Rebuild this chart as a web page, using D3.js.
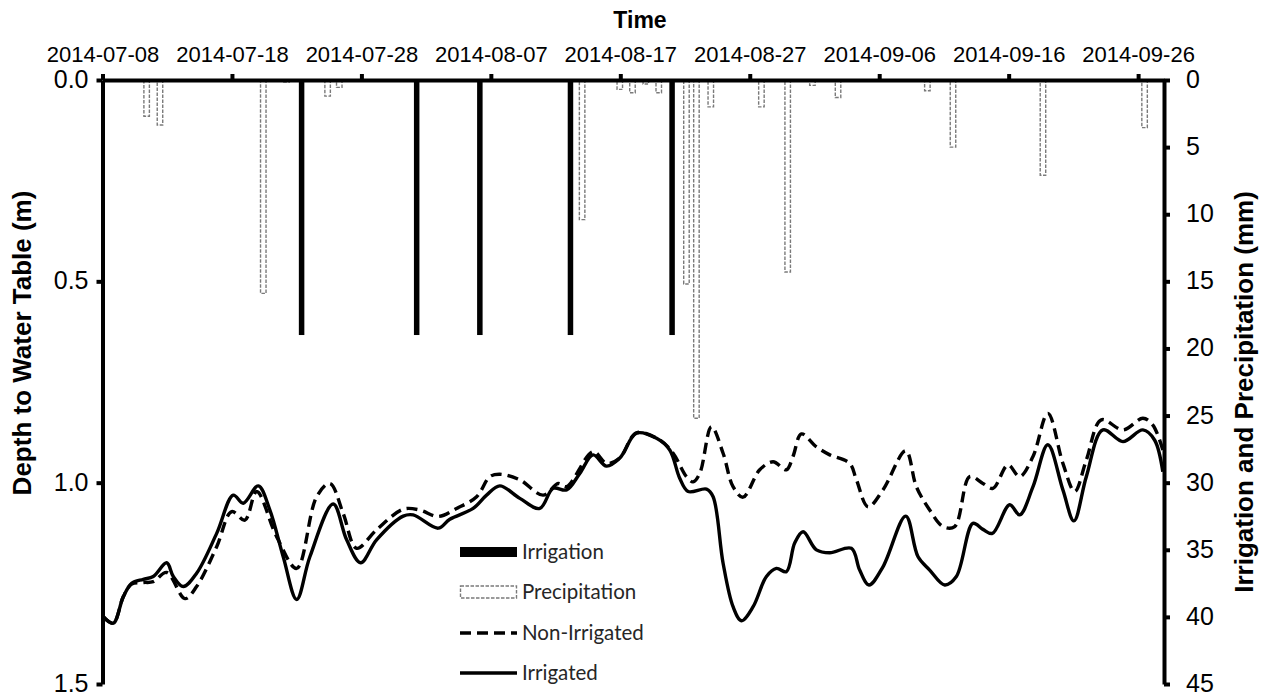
<!DOCTYPE html>
<html>
<head>
<meta charset="utf-8">
<script src="https://cdn.jsdelivr.net/npm/d3@7"></script>
<style>
  html, body { margin: 0; padding: 0; background: #fff; }
  svg { display: block; }
</style>
</head>
<body>
<svg id="chart" width="1265" height="692"></svg>
<script>
// Series start date; all time positions below are days after this date.
const startDate = "2014-07-08";
const endDate = "2014-09-28";

const tickDates = ["2014-07-08", "2014-07-18", "2014-07-28", "2014-08-07", "2014-08-17",
                   "2014-08-27", "2014-09-06", "2014-09-16", "2014-09-26"];
const depthTicks = [0, 0.5, 1.0, 1.5];
const rainTicks = [0, 5, 10, 15, 20, 25, 30, 35, 40, 45];

// Irrigation events (days after start, mm)
const irrigationDay = [15.38, 24.27, 29.15, 36.15, 44.0];
const irrigationMm  = [19, 19, 19, 19, 19];

// Precipitation events (days after start, mm)
const precipDay = [3.41, 4.44, 12.42, 14.22, 17.39, 18.29, 37.05, 39.96, 40.94, 41.97, 42.97,
                   45.11, 45.88, 46.99, 50.90, 52.93, 54.84, 56.82, 63.72, 65.70, 72.65, 80.50];
const precipMm  = [2.7, 3.35, 15.9, 0.15, 1.2, 0.55, 10.4, 0.7, 0.95, 0.3, 0.95,
                   15.2, 25.2, 2.0, 2.0, 14.3, 0.4, 1.3, 0.8, 5.0, 7.1, 3.55];

// Depth to water table, irrigated plot (days after start, m)
const irrigatedDay = [0.06, 0.83, 1.61, 2.25, 3.15, 3.92, 4.96, 5.47, 6.24, 7.27, 8.82, 10.10, 10.87,
  12.03, 12.93, 13.96, 15.00, 16.02, 17.82, 18.86, 19.94, 21.17, 23.23, 24.00, 25.93, 26.83, 28.63,
  29.67, 30.69, 32.24, 33.78, 34.81, 35.85, 36.87, 37.90, 38.93, 39.96, 41.25, 42.80, 43.82, 44.59,
  45.24, 46.66, 47.17, 47.94, 48.71, 49.36, 50.26, 51.29, 52.06, 52.83, 53.47, 54.12, 55.15, 56.18,
  57.85, 58.49, 59.21, 60.29, 62.05, 63.00, 63.90, 65.06, 65.96, 67.24, 68.01, 68.74, 70.08, 70.85,
  71.88, 73.03, 74.19, 75.04, 76.00, 77.28, 78.83, 80.37, 81.27, 81.91];
const irrigatedDepth = [1.333, 1.349, 1.283, 1.250, 1.240, 1.233, 1.199, 1.233, 1.258, 1.225, 1.126,
  1.031, 1.051, 1.008, 1.068, 1.184, 1.290, 1.184, 1.053, 1.142, 1.199, 1.142, 1.083, 1.080, 1.113,
  1.091, 1.064, 1.031, 1.008, 1.039, 1.064, 1.014, 1.018, 0.977, 0.931, 0.959, 0.939, 0.877, 0.890,
  0.919, 0.989, 1.022, 1.016, 1.035, 1.200, 1.308, 1.343, 1.308, 1.233, 1.213, 1.221, 1.150, 1.122,
  1.167, 1.174, 1.163, 1.217, 1.254, 1.209, 1.083, 1.184, 1.217, 1.254, 1.233, 1.101, 1.116, 1.126,
  1.055, 1.080, 1.010, 0.906, 1.018, 1.095, 0.985, 0.869, 0.898, 0.869, 0.894, 0.973];

// Depth to water table, non-irrigated plot (days after start, m)
const nonIrrigatedDay = [0.06, 0.83, 1.61, 2.25, 3.15, 3.92, 4.96, 6.37, 7.27, 8.82, 9.98, 11.00,
  11.91, 13.45, 15.00, 16.54, 17.57, 18.59, 19.63, 21.17, 23.23, 24.52, 25.93, 27.35, 28.90, 29.92,
  30.69, 32.24, 34.04, 35.20, 35.85, 37.90, 38.93, 39.96, 41.25, 43.05, 44.08, 45.11, 45.62, 46.14,
  47.04, 47.94, 48.71, 49.48, 50.77, 51.80, 52.83, 53.34, 53.99, 55.15, 56.18, 57.72, 58.24, 59.14,
  60.29, 62.05, 62.87, 63.90, 64.93, 65.83, 66.99, 68.01, 68.79, 69.95, 70.85, 71.88, 73.03, 74.19,
  75.10, 76.00, 77.16, 78.83, 80.37, 81.14, 81.91];
const nonIrrigatedDepth = [1.333, 1.349, 1.283, 1.252, 1.248, 1.246, 1.223, 1.288, 1.258, 1.159,
  1.072, 1.093, 1.022, 1.134, 1.213, 1.035, 1.002, 1.076, 1.163, 1.117, 1.066, 1.068, 1.084, 1.064,
  1.035, 0.985, 0.979, 0.993, 1.031, 1.002, 1.010, 0.923, 0.952, 0.939, 0.876, 0.894, 0.927, 0.985,
  0.998, 0.977, 0.861, 0.927, 1.010, 1.036, 0.968, 0.948, 0.968, 0.935, 0.879, 0.911, 0.931, 0.952,
  0.993, 1.060, 1.018, 0.921, 1.010, 1.068, 1.109, 1.109, 0.985, 1.002, 1.014, 0.956, 0.985, 0.935,
  0.828, 0.952, 1.022, 0.944, 0.844, 0.869, 0.840, 0.857, 0.919];

const legendItems = ["Irrigation", "Precipitation", "Non-Irrigated", "Irrigated"];

// ---------------------------------------------------------------------------
const SANS = "'Liberation Sans', Arial, sans-serif";
const parse = d3.timeParse("%Y-%m-%d");
const t0 = parse(startDate);
const dayToDate = d => new Date(t0.getTime() + d * 864e5);

const plot = { left: 102.5, right: 1164, top: 80, bottom: 684 };

const x = d3.scaleTime().domain([t0, parse(endDate)]).range([plot.left, plot.right]);
const yDepth = d3.scaleLinear().domain([0, 1.5]).range([plot.top, plot.bottom]);
const yRain = d3.scaleLinear().domain([0, 45]).range([plot.top, plot.bottom]);

const svg = d3.select("#chart");

// Precipitation bars (hanging from the top axis)
const barW = 5.5;
const precipStyle = sel => sel
  .attr("fill", "#fff")
  .attr("stroke", "#7a7a7a")
  .attr("stroke-width", 1.4)
  .attr("stroke-dasharray", "3.5 1.5");

svg.append("g").selectAll("rect")
  .data(precipDay.map((d, i) => ({ date: dayToDate(d), mm: precipMm[i] })))
  .join("rect")
  .attr("x", d => x(d.date) - barW / 2)
  .attr("y", yRain(0))
  .attr("width", barW)
  .attr("height", d => yRain(d.mm) - yRain(0))
  .call(precipStyle);

// Irrigation bars
svg.append("g").selectAll("rect")
  .data(irrigationDay.map((d, i) => ({ date: dayToDate(d), mm: irrigationMm[i] })))
  .join("rect")
  .attr("x", d => x(d.date) - 2.75)
  .attr("y", yRain(0))
  .attr("width", 5.5)
  .attr("height", d => yRain(d.mm) - yRain(0))
  .attr("fill", "#000");

// Water table lines
const line = d3.line()
  .x(d => x(d.date))
  .y(d => yDepth(d.v))
  .curve(d3.curveCatmullRom.alpha(0.5));

const nonIrr = nonIrrigatedDay.map((d, i) => ({ date: dayToDate(d), v: nonIrrigatedDepth[i] }));
const irr = irrigatedDay.map((d, i) => ({ date: dayToDate(d), v: irrigatedDepth[i] }));

svg.append("path").datum(nonIrr)
  .attr("d", line)
  .attr("fill", "none")
  .attr("stroke", "#000")
  .attr("stroke-width", 3.4)
  .attr("stroke-dasharray", "11 6");

svg.append("path").datum(irr)
  .attr("d", line)
  .attr("fill", "none")
  .attr("stroke", "#000")
  .attr("stroke-width", 3.4)
  .attr("stroke-linejoin", "round");

// Axes
function styleAxis(size) {
  return g => {
    g.select(".domain").attr("stroke", "#000").attr("stroke-width", 4);
    g.selectAll(".tick line").attr("stroke", "#000").attr("stroke-width", 4);
    g.selectAll(".tick text").attr("font-size", size).attr("fill", "#000")
      .attr("font-family", SANS);
  };
}

svg.append("g")
  .attr("transform", `translate(0,${plot.top})`)
  .call(d3.axisTop(x)
    .tickValues(tickDates.map(parse))
    .tickFormat(d3.timeFormat("%Y-%m-%d"))
    .tickSize(6).tickSizeOuter(0).tickPadding(12))
  .call(styleAxis(22));

svg.append("g")
  .attr("transform", `translate(${plot.left},0)`)
  .call(d3.axisLeft(yDepth)
    .tickValues(depthTicks)
    .tickFormat(d3.format(".1f"))
    .tickSize(6).tickSizeOuter(0).tickPadding(8))
  .call(styleAxis(25))
  .selectAll(".tick text").attr("dy", "0.3em");

svg.append("g")
  .attr("transform", `translate(${plot.right},0)`)
  .call(d3.axisRight(yRain)
    .tickValues(rainTicks)
    .tickFormat(d3.format("d"))
    .tickSize(6).tickSizeOuter(0).tickPadding(16))
  .call(styleAxis(25))
  .selectAll(".tick text").attr("dy", "0.3em");

// Axis titles
const title = (sel, size) => sel
  .attr("text-anchor", "middle")
  .attr("font-family", SANS)
  .attr("font-size", size).attr("font-weight", "bold")
  .attr("fill", "#000");

svg.append("text")
  .attr("x", 640).attr("y", 28)
  .call(title, 23)
  .text("Time");

svg.append("text")
  .attr("transform", "translate(31,343) rotate(-90)")
  .call(title, 26)
  .text("Depth to Water Table (m)");

svg.append("text")
  .attr("transform", "translate(1253,392) rotate(-90)")
  .call(title, 26)
  .text("Irrigation and Precipitation (mm)");

// Legend
const lg = svg.append("g").attr("transform", "translate(460,0)");
const rowY = [552, 592, 633, 673];
const swW = 57;

lg.append("rect").attr("x", 0).attr("y", rowY[0] - 5).attr("width", swW).attr("height", 10)
  .attr("fill", "#000");
lg.append("rect").attr("x", 0.5).attr("y", rowY[1] - 6).attr("width", swW - 1).attr("height", 12)
  .call(precipStyle);
lg.append("line").attr("x1", 0).attr("x2", swW).attr("y1", rowY[2]).attr("y2", rowY[2])
  .attr("stroke", "#000").attr("stroke-width", 3.4).attr("stroke-dasharray", "11 6");
lg.append("line").attr("x1", 0).attr("x2", swW).attr("y1", rowY[3]).attr("y2", rowY[3])
  .attr("stroke", "#000").attr("stroke-width", 3.4);

lg.selectAll("text.lab").data(legendItems).join("text")
  .attr("class", "lab")
  .attr("x", swW + 5)
  .attr("y", (d, i) => rowY[i])
  .attr("dy", "0.35em")
  .attr("font-family", "Lato, 'Open Sans', sans-serif")
  .attr("font-size", 20.5)
  .attr("fill", "#262626")
  .text(d => d);
</script>
</body>
</html>
